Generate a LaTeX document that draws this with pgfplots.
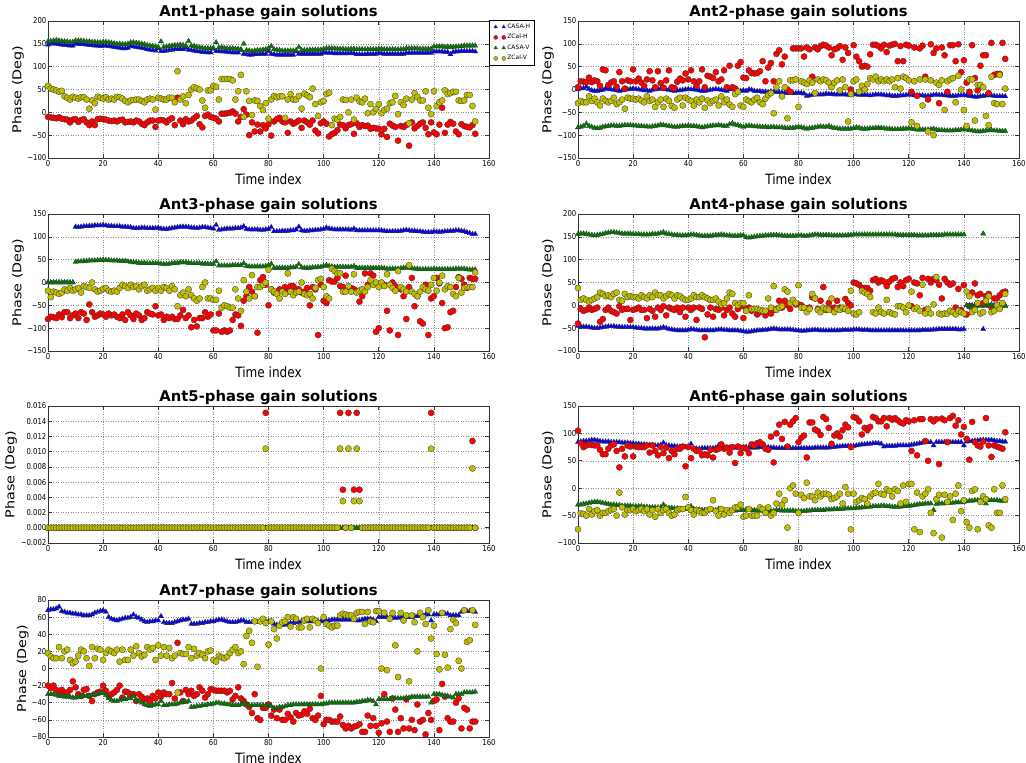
\documentclass[border=0pt]{standalone}
\usepackage{fontspec}
\setmainfont{DejaVu Sans}
\usepackage{graphicx}
\usepackage{pgfplots}
\pgfplotsset{compat=1.18}
\definecolor{yv}{rgb}{0.75,0.75,0}
\definecolor{gv}{rgb}{0,0.5,0}
\newcommand{\hs}[1]{\scalebox{0.85}[1]{#1}}
\newcommand{\vs}[1]{\scalebox{1}[0.85]{#1}}
\newcommand{\ser}[2]{\addplot[#1] table[row sep=\\,x expr=\coordindex,y index=0]{#2};}
\pgfplotsset{
 leg/.style={legend image code/.code={\path[draw=none,fill=none] (-3pt,-2.5pt) rectangle (11pt,2.5pt);\draw[##1,mark size=2pt] plot coordinates {(0pt,0pt) (8pt,0pt)};}},
 sH/.style={only marks, mark=triangle*, mark size=3pt, mark options={fill=blue, draw=black!80, line width=0.3pt}, leg},
 zH/.style={only marks, mark=*, mark size=3.1pt, mark options={fill=red, draw=black!80, line width=0.3pt}, leg},
 sV/.style={only marks, mark=triangle*, mark size=3pt, mark options={fill=gv, draw=black!80, line width=0.3pt}, leg},
 zV/.style={only marks, mark=*, mark size=3.1pt, mark options={fill=yv, draw=black!80, line width=0.3pt}, leg},
 ant/.style={scale only axis, width=441pt, height=137pt, anchor=south west, xmin=0, xmax=160,
   scaled y ticks=false, scaled x ticks=false,
   xtick={0,20,...,160}, xticklabels={\hs{0},\hs{20},\hs{40},\hs{60},\hs{80},\hs{100},\hs{120},\hs{140},\hs{160}},
   grid=major, grid style={black!45, line width=0.5pt, dash pattern=on 1pt off 1.5pt},
   axis line style={black!80, line width=0.8pt},
   tick style={black!80, line width=0.6pt}, major tick length=4pt,
   ticklabel style={font=\fontsize{8.1}{9}\selectfont},
   xticklabel style={inner sep=2pt}, yticklabel style={inner sep=1.5pt},
   title style={at={(axis description cs:0.5,1)}, anchor=base, yshift=-2pt, font=\fontsize{14.8}{17}\selectfont\bfseries},
   xlabel={\hs{Time index}}, xlabel style={at={(axis description cs:0.5,-0.19)}, anchor=base, font=\fontsize{14.2}{16}\selectfont},
   ylabel={\vs{Phase (Deg)}}, ylabel style={at={(axis description cs:-0.068,0.5)}, anchor=center, font=\fontsize{14.3}{16}\selectfont},
 }
}
\begin{document}
\begin{tikzpicture}
\path[use as bounding box] (0pt,0pt) rectangle (1026pt,763pt);
% ---------------- Ant1
\begin{axis}[ant, at={(48pt,605pt)}, title={Ant1-phase gain solutions},
  ymin=-100, ymax=200, ytick={-100,-50,0,50,100,150,200},
  yticklabels={\hs{−100},\hs{−50},\hs{0},\hs{50},\hs{100},\hs{150},\hs{200}},
  legend entries={CASA-H,ZCal-H,CASA-V,ZCal-V}, legend cell align=left,
  legend style={at={(1,1.01)}, anchor=north west, draw=black, line width=0.4pt, font=\fontsize{6}{7}\selectfont, inner sep=3.5pt, row sep=3.3pt, nodes={inner sep=0.6pt}}]
\ser{sH}{148\\150\\151\\150\\149\\148\\147\\147\\146\\146\\
150\\150\\149\\149\\148\\147\\147\\146\\146\\145\\
146\\146\\145\\144\\143\\142\\141\\140\\140\\141\\
145\\144\\143\\142\\141\\140\\138\\137\\136\\135\\
140\\134\\134\\135\\136\\137\\138\\138\\139\\138\\
141\\137\\136\\135\\134\\133\\132\\132\\131\\131\\
139\\134\\134\\133\\133\\132\\132\\131\\131\\131\\
136\\128\\127\\126\\126\\127\\127\\128\\128\\128\\
134\\128\\127\\126\\126\\126\\126\\126\\126\\126\\
133\\128\\128\\128\\128\\128\\128\\128\\128\\128\\
131\\130\\130\\130\\129\\129\\129\\129\\129\\129\\
130\\129\\127\\127\\127\\127\\128\\128\\128\\128\\
130\\129\\128\\128\\128\\128\\128\\128\\128\\128\\
130\\130\\130\\130\\130\\130\\130\\130\\130\\130\\
133\\133\\133\\133\\132\\132\\127\\132\\133\\133\\
134\\134\\134\\134\\134\\133\\}
\ser{zH}{-10\\-11\\-12\\-13\\-11\\-14\\-15\\-16\\-22\\-16\\
-15\\-21\\-17\\-15\\-22\\-28\\-20\\-28\\-15\\-14\\
-15\\-16\\-18\\-19\\-18\\-20\\-17\\-16\\-22\\-21\\
-20\\-22\\-18\\-20\\-25\\-28\\-22\\-18\\-18\\-32\\
-18\\-17\\-18\\-22\\-16\\-13\\-28\\32\\-18\\-26\\
-15\\-20\\-18\\-13\\-8\\-26\\-33\\-8\\-5\\-10\\
-12\\-14\\-20\\-3\\-3\\-2\\-1\\2\\-3\\-20\\
-10\\7\\-5\\-50\\-22\\-42\\-27\\-42\\-28\\-35\\
-26\\-51\\-20\\-15\\-12\\-20\\-22\\-45\\-20\\-25\\
-22\\-18\\-34\\-18\\-22\\-27\\-18\\-40\\-46\\-24\\
-20\\-25\\-53\\-48\\-45\\-39\\-27\\-28\\-35\\-28\\
-26\\-47\\-24\\-32\\-28\\-30\\-29\\-36\\-34\\-35\\
-36\\-48\\-36\\-54\\-25\\-29\\-32\\-62\\-30\\-32\\
-28\\-73\\-22\\-35\\-30\\-25\\-22\\-34\\-48\\-22\\
-44\\-48\\-27\\10\\-45\\-27\\-21\\-25\\-42\\-48\\
-26\\-30\\-32\\-33\\-28\\-47\\}
\ser{sV}{155\\156\\157\\158\\157\\156\\155\\155\\154\\154\\
157\\157\\157\\156\\155\\155\\154\\154\\153\\153\\
154\\154\\153\\152\\151\\150\\150\\149\\149\\150\\
153\\153\\152\\151\\150\\149\\147\\146\\145\\144\\
143\\155\\143\\144\\145\\146\\147\\147\\148\\147\\
146\\156\\146\\145\\143\\142\\141\\140\\140\\140\\
141\\153\\142\\142\\141\\140\\140\\140\\139\\139\\
138\\150\\136\\135\\134\\135\\136\\136\\137\\138\\
140\\145\\138\\137\\136\\135\\135\\135\\135\\135\\
136\\143\\136\\136\\136\\137\\137\\137\\137\\137\\
139\\140\\140\\140\\140\\139\\139\\139\\138\\138\\
139\\139\\138\\138\\138\\138\\138\\138\\138\\138\\
139\\139\\138\\138\\138\\138\\138\\138\\138\\138\\
140\\140\\140\\140\\140\\139\\139\\139\\139\\139\\
144\\144\\144\\144\\143\\143\\143\\143\\144\\144\\
145\\146\\146\\146\\146\\146\\}
\ser{zV}{58\\52\\50\\48\\45\\47\\35\\32\\28\\34\\
32\\30\\33\\33\\28\\8\\26\\20\\34\\32\\
30\\33\\28\\30\\28\\34\\33\\30\\25\\22\\
26\\27\\28\\28\\25\\22\\28\\30\\28\\6\\
32\\30\\28\\28\\32\\32\\22\\90\\28\\35\\
20\\38\\50\\55\\52\\50\\26\\10\\48\\48\\
58\\56\\28\\73\\73\\73\\73\\70\\28\\46\\
82\\-10\\46\\25\\-6\\26\\25\\14\\5\\20\\
-14\\28\\36\\33\\35\\35\\-12\\28\\40\\28\\
28\\36\\8\\41\\37\\33\\52\\18\\-8\\22\\
25\\40\\43\\-28\\-14\\-16\\-10\\28\\27\\0\\
28\\-16\\32\\24\\22\\30\\-2\\18\\0\\8\\
18\\-2\\5\\8\\20\\22\\36\\-4\\22\\16\\
30\\-24\\28\\42\\34\\26\\26\\46\\10\\-4\\
46\\14\\22\\26\\48\\40\\42\\45\\45\\26\\
25\\26\\38\\38\\14\\-20\\}
\end{axis}
% ---------------- Ant2
\begin{axis}[ant, at={(578pt,605pt)}, title={Ant2-phase gain solutions},
  ymin=-150, ymax=150, ytick={-150,-100,-50,0,50,100,150},
  yticklabels={\hs{−150},\hs{−100},\hs{−50},\hs{0},\hs{50},\hs{100},\hs{150}}]
\ser{sH}{0\\2\\3\\6\\1\\-2\\-3\\-3\\-2\\-1\\
2\\1\\0\\-1\\-2\\-3\\-2\\-1\\0\\1\\
2\\1\\0\\-1\\-2\\-2\\-3\\-1\\0\\1\\
2\\1\\0\\-1\\-2\\-3\\-2\\-2\\-1\\0\\
1\\0\\0\\-1\\-2\\-3\\-3\\-2\\-1\\0\\
1\\0\\-1\\-2\\-3\\0\\3\\-1\\-2\\-3\\
-2\\-3\\0\\-1\\-3\\-4\\-4\\-5\\-5\\-6\\
-4\\-5\\-6\\-6\\-7\\-7\\-8\\-8\\-8\\-8\\
-7\\-8\\-9\\-14\\-13\\-12\\-11\\-11\\-11\\-11\\
-9\\-10\\-10\\-11\\-11\\-11\\-11\\-11\\-12\\-12\\
-10\\-11\\-12\\-12\\-12\\-12\\-13\\-12\\-11\\-11\\
-11\\-12\\-13\\-13\\-14\\-14\\-14\\-13\\-13\\-12\\
-11\\-12\\-13\\-13\\-13\\-13\\-14\\-14\\-13\\-12\\
-11\\-12\\-12\\-13\\-13\\-14\\-14\\-14\\-13\\-13\\
-12\\-13\\-14\\-15\\-16\\-16\\-15\\-14\\-13\\-13\\
-13\\-14\\-15\\-15\\-15\\-15\\}
\ser{zH}{5\\18\\17\\16\\26\\16\\20\\18\\8\\44\\
42\\10\\15\\18\\6\\38\\18\\2\\20\\18\\
44\\18\\24\\15\\8\\22\\40\\20\\5\\40\\
14\\4\\20\\42\\5\\3\\17\\24\\20\\35\\
22\\42\\18\\8\\18\\44\\5\\30\\28\\25\\
38\\18\\22\\42\\5\\52\\5\\2\\52\\60\\
26\\25\\42\\36\\35\\36\\40\\62\\18\\48\\
58\\18\\78\\86\\55\\72\\0\\-5\\90\\90\\
90\\90\\72\\92\\88\\28\\92\\88\\95\\98\\
96\\92\\75\\88\\90\\95\\65\\92\\80\\0\\
97\\72\\62\\50\\52\\50\\77\\98\\98\\95\\
90\\98\\82\\96\\98\\100\\62\\95\\62\\98\\
96\\-5\\92\\-14\\90\\96\\28\\-22\\99\\80\\
90\\-30\\92\\75\\-5\\97\\97\\62\\99\\38\\
64\\15\\-5\\97\\25\\-2\\52\\75\\75\\-8\\
102\\32\\34\\34\\102\\67\\}
\ser{sV}{-83\\-82\\-80\\-75\\-80\\-82\\-84\\-85\\-84\\-82\\
-81\\-80\\-79\\-79\\-80\\-80\\-79\\-78\\-78\\-78\\
-79\\-79\\-80\\-80\\-81\\-81\\-82\\-81\\-80\\-79\\
-77\\-78\\-79\\-80\\-81\\-82\\-82\\-81\\-80\\-80\\
-79\\-80\\-80\\-81\\-82\\-83\\-82\\-81\\-80\\-79\\
-79\\-78\\-79\\-80\\-80\\-76\\-74\\-77\\-78\\-80\\
-82\\-80\\-79\\-80\\-81\\-81\\-82\\-82\\-82\\-83\\
-82\\-82\\-83\\-83\\-83\\-84\\-85\\-84\\-84\\-83\\
-82\\-83\\-84\\-86\\-85\\-84\\-83\\-82\\-81\\-82\\
-82\\-80\\-83\\-84\\-85\\-86\\-86\\-86\\-86\\-86\\
-85\\-83\\-84\\-86\\-86\\-86\\-85\\-85\\-84\\-84\\
-84\\-85\\-86\\-86\\-87\\-87\\-87\\-87\\-86\\-86\\
-85\\-86\\-87\\-88\\-88\\-88\\-88\\-88\\-87\\-86\\
-88\\-89\\-89\\-90\\-90\\-90\\-90\\-89\\-89\\-88\\
-87\\-88\\-89\\-90\\-91\\-92\\-92\\-91\\-90\\-89\\
-89\\-90\\-90\\-91\\-91\\-91\\}
\ser{zV}{-30\\-25\\-28\\-28\\-15\\-25\\-20\\-28\\-35\\-20\\
-25\\-28\\-25\\-18\\-32\\-28\\-22\\-42\\-18\\-20\\
-20\\-22\\-20\\-24\\-28\\-15\\-25\\-22\\-38\\-28\\
-22\\-38\\-20\\-25\\-36\\-40\\-22\\-18\\-35\\-18\\
-22\\-25\\-35\\-22\\-28\\-20\\-40\\-24\\-30\\-25\\
-22\\-35\\-15\\-28\\-22\\-33\\-38\\-10\\-5\\-35\\
-38\\-22\\-25\\-28\\-22\\-18\\-28\\-32\\-20\\-12\\
-8\\-52\\5\\18\\-15\\5\\-63\\20\\20\\22\\
-38\\18\\15\\12\\20\\15\\-8\\22\\18\\22\\
20\\15\\5\\15\\20\\-2\\22\\5\\-70\\-10\\
18\\22\\-5\\8\\0\\12\\25\\22\\28\\18\\
22\\18\\22\\18\\22\\5\\25\\2\\28\\25\\
20\\-72\\18\\-80\\22\\-35\\22\\-92\\20\\-100\\
15\\10\\20\\-45\\18\\22\\25\\-28\\30\\0\\
-45\\-80\\22\\22\\-68\\10\\10\\5\\-58\\-78\\
28\\-30\\-32\\32\\-32\\2\\}
\end{axis}
% ---------------- Ant3
\begin{axis}[ant, at={(48pt,412pt)}, title={Ant3-phase gain solutions},
  ymin=-150, ymax=150, ytick={-150,-100,-50,0,50,100,150},
  yticklabels={\hs{−150},\hs{−100},\hs{−50},\hs{0},\hs{50},\hs{100},\hs{150}}]
\ser{sH}{0\\0\\0\\0\\0\\0\\0\\0\\0\\0\\
122\\121\\122\\123\\123\\124\\124\\125\\125\\125\\
126\\125\\124\\124\\123\\123\\123\\122\\122\\121\\
121\\119\\119\\119\\120\\120\\119\\119\\119\\119\\
120\\118\\117\\117\\118\\119\\120\\121\\122\\122\\
122\\121\\120\\120\\119\\120\\121\\121\\120\\119\\
118\\126\\115\\116\\117\\118\\118\\118\\119\\119\\
120\\123\\117\\116\\116\\116\\116\\115\\115\\116\\
117\\121\\112\\112\\112\\113\\113\\113\\114\\114\\
116\\122\\114\\113\\113\\114\\114\\115\\115\\116\\
117\\120\\118\\117\\116\\116\\116\\116\\116\\116\\
115\\118\\114\\114\\114\\114\\114\\114\\114\\114\\
114\\114\\113\\112\\112\\112\\112\\112\\113\\114\\
115\\114\\113\\113\\112\\112\\111\\110\\110\\110\\
112\\111\\111\\111\\112\\112\\113\\113\\114\\114\\
113\\112\\110\\108\\106\\106\\}
\ser{zH}{-80\\-75\\-76\\-78\\-70\\-76\\-65\\-65\\-78\\-72\\
-68\\-78\\-65\\-68\\-82\\-48\\-65\\-75\\-72\\-68\\
-70\\-75\\-68\\-72\\-70\\-75\\-78\\-70\\-82\\-65\\
-72\\-80\\-68\\-72\\-82\\-78\\-65\\-68\\-70\\-52\\
-72\\-70\\-82\\-75\\-78\\-75\\-80\\-80\\-72\\-60\\
-78\\-72\\-98\\-82\\-96\\-78\\-78\\-65\\-75\\-70\\
-105\\-105\\-68\\-108\\-105\\-108\\-105\\-82\\-70\\-72\\
-95\\-40\\-30\\-10\\-20\\-30\\-110\\5\\12\\-5\\
-50\\-15\\-22\\-20\\-15\\-18\\-10\\-20\\-8\\-8\\
-15\\-15\\-22\\-20\\-12\\-50\\-10\\-15\\-115\\-5\\
-40\\-45\\5\\2\\2\\10\\-8\\-10\\15\\-10\\
-12\\-15\\-18\\-42\\-30\\20\\-5\\20\\15\\-108\\
-100\\-5\\-5\\-62\\-105\\0\\-8\\-115\\-15\\-30\\
-80\\-10\\10\\-52\\-30\\-85\\-90\\-5\\-115\\-35\\
-30\\10\\-2\\-45\\-100\\-98\\-65\\-62\\-10\\12\\
8\\-5\\-12\\10\\8\\8\\}
\ser{sV}{0\\0\\0\\0\\0\\0\\0\\0\\0\\0\\
45\\46\\46\\47\\47\\48\\48\\48\\49\\49\\
50\\49\\49\\48\\48\\48\\47\\47\\47\\46\\
45\\44\\44\\43\\43\\43\\42\\42\\42\\42\\
42\\41\\40\\40\\41\\42\\43\\43\\44\\44\\
44\\43\\42\\42\\42\\42\\41\\41\\41\\40\\
40\\46\\37\\37\\37\\37\\37\\38\\38\\38\\
38\\42\\36\\35\\35\\35\\35\\35\\35\\36\\
38\\41\\32\\32\\32\\32\\32\\32\\33\\33\\
34\\40\\33\\32\\32\\32\\33\\33\\34\\34\\
36\\38\\36\\35\\34\\34\\34\\34\\34\\34\\
34\\36\\32\\32\\32\\32\\32\\32\\32\\32\\
32\\32\\31\\30\\30\\30\\30\\30\\31\\32\\
33\\32\\31\\30\\30\\29\\29\\29\\29\\29\\
30\\29\\29\\29\\29\\29\\29\\29\\30\\30\\
30\\30\\29\\28\\28\\28\\}
\ser{zV}{-18\\-32\\-20\\-22\\-25\\-22\\-15\\-18\\-12\\-18\\
-15\\-12\\-22\\-8\\-10\\-12\\0\\-15\\-20\\-18\\
-14\\-12\\-18\\-20\\-18\\-20\\-12\\-5\\-8\\-12\\
-5\\-10\\-8\\-15\\-8\\-5\\-18\\-15\\-12\\-18\\
-12\\-18\\-10\\-12\\-18\\-8\\-15\\-52\\-28\\-22\\
-30\\-15\\-28\\-35\\-40\\-35\\-10\\0\\-35\\-35\\
-38\\-38\\-18\\-55\\-50\\-52\\-55\\-55\\-15\\-35\\
-62\\5\\-20\\-35\\16\\-30\\-10\\-10\\-5\\0\\
28\\-15\\-20\\-25\\-35\\-20\\-25\\20\\-20\\-28\\
-22\\-20\\0\\-25\\-28\\-25\\-35\\-12\\5\\8\\
-10\\-30\\-35\\30\\25\\20\\20\\-20\\-20\\-8\\
-20\\18\\-22\\-18\\-15\\-20\\-10\\5\\-5\\0\\
-10\\0\\-8\\18\\-5\\-12\\-18\\25\\-10\\-15\\
-20\\38\\-20\\-25\\-30\\-20\\-10\\-15\\-18\\-5\\
10\\-18\\0\\15\\-15\\-8\\-10\\-25\\-30\\10\\
-22\\-12\\-10\\-10\\-10\\22\\}
\end{axis}
% ---------------- Ant4
\begin{axis}[ant, at={(578pt,412pt)}, title={Ant4-phase gain solutions},
  ymin=-100, ymax=200, ytick={-100,-50,0,50,100,150,200},
  yticklabels={\hs{−100},\hs{−50},\hs{0},\hs{50},\hs{100},\hs{150},\hs{200}}]
\ser{sH}{-45\\-46\\-47\\-47\\-48\\-49\\-50\\-50\\-49\\-48\\
-47\\-46\\-46\\-46\\-47\\-47\\-48\\-48\\-48\\-48\\
-48\\-49\\-50\\-50\\-51\\-51\\-51\\-51\\-51\\-51\\
-50\\-48\\-50\\-52\\-53\\-54\\-55\\-55\\-55\\-55\\
-54\\-52\\-53\\-54\\-55\\-55\\-55\\-55\\-55\\-55\\
-54\\-53\\-53\\-54\\-54\\-55\\-55\\-55\\-55\\-56\\
-57\\-58\\-58\\-57\\-56\\-55\\-55\\-54\\-54\\-53\\
-52\\-51\\-52\\-53\\-53\\-53\\-53\\-53\\-54\\-55\\
-55\\-56\\-56\\-55\\-55\\-54\\-54\\-54\\-55\\-55\\
-55\\-55\\-55\\-55\\-55\\-55\\-54\\-54\\-54\\-54\\
-53\\-53\\-53\\-54\\-54\\-54\\-55\\-55\\-55\\-55\\
-55\\-55\\-55\\-55\\-55\\-55\\-55\\-55\\-55\\-55\\
-55\\-55\\-55\\-55\\-55\\-54\\-54\\-54\\-54\\-53\\
-53\\-52\\-52\\-52\\-52\\-52\\-52\\-52\\-53\\-53\\
-52\\0\\0\\0\\0\\0\\0\\-52\\0\\0\\
0\\0\\0\\0\\0\\0\\}
\ser{zH}{-40\\-8\\-12\\-10\\-5\\-10\\-8\\-5\\-36\\-30\\
-10\\-5\\-12\\-15\\-18\\-2\\-10\\-8\\-8\\-32\\
-10\\-8\\-5\\-10\\-10\\-28\\-8\\-12\\-25\\-5\\
-10\\-2\\-22\\-5\\-8\\-10\\-5\\-15\\-5\\-25\\
-5\\-10\\-5\\-32\\-5\\-8\\-70\\-20\\-5\\-25\\
-8\\-10\\-5\\-22\\-10\\-5\\-18\\-25\\-8\\-2\\
-28\\-8\\-5\\-12\\-8\\-20\\-15\\-12\\-22\\-15\\
-18\\-10\\-8\\10\\-5\\10\\0\\-8\\10\\2\\
2\\0\\-5\\-10\\-5\\18\\15\\-8\\10\\40\\
-10\\5\\-8\\-5\\10\\-5\\-8\\14\\5\\0\\
50\\48\\45\\38\\38\\38\\32\\55\\58\\50\\
55\\52\\42\\52\\58\\60\\40\\50\\42\\55\\
58\\-2\\50\\48\\22\\60\\-10\\58\\50\\58\\
55\\45\\15\\58\\50\\45\\48\\-5\\36\\-10\\
44\\-20\\-2\\28\\48\\22\\25\\5\\20\\25\\
-5\\15\\15\\22\\28\\30\\}
\ser{sV}{156\\157\\157\\156\\155\\154\\153\\154\\155\\156\\
158\\159\\160\\160\\159\\158\\157\\157\\157\\157\\
156\\156\\156\\155\\155\\155\\155\\156\\156\\157\\
158\\160\\157\\156\\155\\154\\154\\153\\153\\153\\
154\\155\\155\\154\\153\\152\\152\\152\\152\\153\\
154\\154\\155\\154\\153\\153\\152\\152\\152\\153\\
153\\149\\148\\149\\150\\151\\152\\152\\153\\153\\
154\\154\\154\\153\\153\\152\\152\\152\\152\\152\\
153\\153\\152\\152\\153\\154\\155\\155\\154\\154\\
154\\154\\153\\153\\153\\153\\153\\153\\154\\154\\
155\\155\\155\\155\\155\\155\\155\\155\\155\\155\\
155\\155\\155\\155\\155\\155\\154\\154\\154\\154\\
154\\154\\154\\153\\153\\153\\153\\153\\154\\154\\
154\\154\\154\\155\\155\\155\\155\\155\\155\\155\\
155\\0\\-2\\-3\\-2\\0\\-2\\157\\-2\\0\\
2\\-3\\-2\\0\\-2\\-2\\}
\ser{zV}{38\\12\\15\\12\\8\\12\\15\\18\\28\\25\\
20\\22\\18\\25\\28\\12\\10\\25\\18\\20\\
18\\18\\15\\22\\18\\15\\22\\18\\28\\22\\
22\\15\\20\\25\\22\\15\\22\\20\\15\\12\\
12\\15\\22\\18\\18\\22\\18\\15\\12\\12\\
15\\8\\2\\5\\15\\28\\25\\5\\0\\5\\
5\\-12\\22\\-8\\-8\\-8\\-10\\-12\\-12\\15\\
-5\\42\\-10\\-5\\-2\\35\\30\\5\\12\\5\\
44\\-5\\-5\\-15\\-8\\25\\15\\-10\\-15\\-5\\
-8\\-10\\15\\-15\\-8\\-10\\-5\\-8\\-12\\32\\
-18\\-20\\-15\\32\\28\\25\\18\\-15\\-18\\-5\\
-15\\-18\\12\\-15\\-18\\-20\\-2\\-2\\-5\\-15\\
0\\30\\-8\\-5\\-12\\45\\-18\\-8\\-18\\2\\
62\\-18\\-20\\-18\\-18\\-12\\-15\\-20\\-12\\-15\\
-18\\30\\20\\-15\\-10\\5\\-18\\-15\\10\\20\\
-15\\-12\\0\\-8\\5\\25\\}
\end{axis}
% ---------------- Ant5
\begin{axis}[ant, at={(48pt,220pt)}, title={Ant5-phase gain solutions},
  ymin=-0.002, ymax=0.016, ytick={-0.002,0,0.002,0.004,0.006,0.008,0.010,0.012,0.014,0.016},
  yticklabels={\hs{−0.002},\hs{0.000},\hs{0.002},\hs{0.004},\hs{0.006},\hs{0.008},\hs{0.010},\hs{0.012},\hs{0.014},\hs{0.016}},
  ylabel style={at={(axis description cs:-0.084,0.5)}}]
\ser{sH}{0\\0\\0\\0\\0\\0\\0\\0\\0\\0\\
0\\0\\0\\0\\0\\0\\0\\0\\0\\0\\
0\\0\\0\\0\\0\\0\\0\\0\\0\\0\\
0\\0\\0\\0\\0\\0\\0\\0\\0\\0\\
0\\0\\0\\0\\0\\0\\0\\0\\0\\0\\
0\\0\\0\\0\\0\\0\\0\\0\\0\\0\\
0\\0\\0\\0\\0\\0\\0\\0\\0\\0\\
0\\0\\0\\0\\0\\0\\0\\0\\0\\0\\
0\\0\\0\\0\\0\\0\\0\\0\\0\\0\\
0\\0\\0\\0\\0\\0\\0\\0\\0\\0\\
0\\0\\0\\0\\0\\0\\0\\0\\0\\0\\
0\\0\\0\\0\\0\\0\\0\\0\\0\\0\\
0\\0\\0\\0\\0\\0\\0\\0\\0\\0\\
0\\0\\0\\0\\0\\0\\0\\0\\0\\0\\
0\\0\\0\\0\\0\\0\\0\\0\\0\\0\\
0\\0\\0\\0\\0\\0\\}
\ser{zH}{0\\0\\0\\0\\0\\0\\0\\0\\0\\0\\
0\\0\\0\\0\\0\\0\\0\\0\\0\\0\\
0\\0\\0\\0\\0\\0\\0\\0\\0\\0\\
0\\0\\0\\0\\0\\0\\0\\0\\0\\0\\
0\\0\\0\\0\\0\\0\\0\\0\\0\\0\\
0\\0\\0\\0\\0\\0\\0\\0\\0\\0\\
0\\0\\0\\0\\0\\0\\0\\0\\0\\0\\
0\\0\\0\\0\\0\\0\\0\\0\\0\\0.0151\\
0\\0\\0\\0\\0\\0\\0\\0\\0\\0\\
0\\0\\0\\0\\0\\0\\0\\0\\0\\0\\
0\\0\\0\\0\\0\\0\\0.0151\\0.005\\0\\0.0151\\
0\\0.005\\0.0151\\0.005\\0\\0\\0\\0\\0\\0\\
0\\0\\0\\0\\0\\0\\0\\0\\0\\0\\
0\\0\\0\\0\\0\\0\\0\\0\\0\\0.0151\\
0\\0\\0\\0\\0\\0\\0\\0\\0\\0\\
0\\0\\0\\0\\0.0114\\0\\}
\ser{sV}{0\\0\\0\\0\\0\\0\\0\\0\\0\\0\\
0\\0\\0\\0\\0\\0\\0\\0\\0\\0\\
0\\0\\0\\0\\0\\0\\0\\0\\0\\0\\
0\\0\\0\\0\\0\\0\\0\\0\\0\\0\\
0\\0\\0\\0\\0\\0\\0\\0\\0\\0\\
0\\0\\0\\0\\0\\0\\0\\0\\0\\0\\
0\\0\\0\\0\\0\\0\\0\\0\\0\\0\\
0\\0\\0\\0\\0\\0\\0\\0\\0\\0\\
0\\0\\0\\0\\0\\0\\0\\0\\0\\0\\
0\\0\\0\\0\\0\\0\\0\\0\\0\\0\\
0\\0\\0\\0\\0\\0\\0\\0\\0\\0\\
0\\0\\0\\0\\0\\0\\0\\0\\0\\0\\
0\\0\\0\\0\\0\\0\\0\\0\\0\\0\\
0\\0\\0\\0\\0\\0\\0\\0\\0\\0\\
0\\0\\0\\0\\0\\0\\0\\0\\0\\0\\
0\\0\\0\\0\\0\\0\\}
\ser{zV}{0\\0\\0\\0\\0\\0\\0\\0\\0\\0\\
0\\0\\0\\0\\0\\0\\0\\0\\0\\0\\
0\\0\\0\\0\\0\\0\\0\\0\\0\\0\\
0\\0\\0\\0\\0\\0\\0\\0\\0\\0\\
0\\0\\0\\0\\0\\0\\0\\0\\0\\0\\
0\\0\\0\\0\\0\\0\\0\\0\\0\\0\\
0\\0\\0\\0\\0\\0\\0\\0\\0\\0\\
0\\0\\0\\0\\0\\0\\0\\0\\0\\0.0104\\
0\\0\\0\\0\\0\\0\\0\\0\\0\\0\\
0\\0\\0\\0\\0\\0\\0\\0\\0\\0\\
0\\0\\0\\0\\0\\0\\0.0104\\0.0035\\0\\0.0104\\
0\\0.0035\\0.0104\\0.0035\\0\\0\\0\\0\\0\\0\\
0\\0\\0\\0\\0\\0\\0\\0\\0\\0\\
0\\0\\0\\0\\0\\0\\0\\0\\0\\0.0104\\
0\\0\\0\\0\\0\\0\\0\\0\\0\\0\\
0\\0\\0\\0\\0.0078\\0\\}
\end{axis}
% ---------------- Ant6
\begin{axis}[ant, at={(578pt,220pt)}, title={Ant6-phase gain solutions},
  ymin=-100, ymax=150, ytick={-100,-50,0,50,100,150},
  yticklabels={\hs{−100},\hs{−50},\hs{0},\hs{50},\hs{100},\hs{150}}]
\ser{sH}{84\\85\\86\\86\\87\\88\\88\\87\\86\\85\\
85\\85\\84\\84\\84\\84\\83\\83\\83\\82\\
82\\81\\81\\80\\80\\79\\79\\79\\78\\78\\
79\\83\\78\\78\\77\\77\\76\\76\\75\\75\\
76\\81\\72\\72\\72\\73\\73\\73\\73\\73\\
74\\78\\74\\74\\74\\74\\74\\74\\74\\74\\
75\\75\\74\\74\\74\\74\\75\\75\\75\\75\\
74\\74\\73\\73\\73\\73\\73\\73\\73\\73\\
73\\73\\73\\73\\73\\73\\74\\74\\74\\74\\
74\\74\\75\\75\\76\\76\\77\\77\\77\\77\\
77\\78\\79\\80\\80\\81\\81\\82\\82\\82\\
81\\76\\77\\77\\77\\77\\78\\78\\78\\78\\
78\\79\\80\\81\\82\\83\\84\\84\\84\\78\\
84\\84\\84\\84\\84\\84\\84\\84\\84\\84\\
78\\85\\86\\86\\87\\87\\88\\88\\88\\88\\
88\\87\\86\\86\\85\\85\\}
\ser{zH}{105\\82\\75\\78\\80\\79\\78\\78\\70\\62\\
62\\72\\78\\80\\68\\38\\72\\58\\78\\76\\
58\\76\\75\\75\\75\\78\\65\\78\\68\\60\\
75\\64\\74\\55\\68\\62\\72\\72\\76\\40\\
75\\55\\72\\68\\68\\60\\62\\60\\70\\56\\
70\\72\\80\\72\\74\\65\\75\\46\\76\\64\\
74\\72\\64\\80\\78\\82\\84\\80\\72\\70\\
94\\47\\100\\116\\90\\121\\76\\116\\122\\128\\
84\\92\\96\\56\\120\\120\\107\\104\\97\\130\\
126\\110\\81\\96\\100\\94\\106\\116\\111\\75\\
130\\128\\122\\98\\110\\106\\112\\130\\128\\122\\
122\\128\\113\\128\\125\\128\\124\\120\\118\\124\\
122\\68\\124\\60\\126\\126\\86\\50\\126\\122\\
126\\44\\127\\124\\84\\128\\132\\114\\124\\98\\
112\\90\\52\\121\\84\\78\\76\\85\\128\\78\\
57\\78\\76\\74\\72\\102\\}
\ser{sV}{-30\\-30\\-29\\-28\\-27\\-26\\-25\\-25\\-26\\-27\\
-28\\-29\\-30\\-30\\-31\\-31\\-32\\-32\\-32\\-32\\
-33\\-33\\-33\\-33\\-34\\-34\\-35\\-35\\-35\\-35\\
-35\\-30\\-35\\-36\\-36\\-37\\-37\\-38\\-38\\-38\\
-38\\-33\\-38\\-39\\-39\\-40\\-40\\-40\\-40\\-40\\
-40\\-38\\-40\\-41\\-41\\-41\\-41\\-41\\-40\\-40\\
-40\\-39\\-39\\-40\\-40\\-41\\-41\\-41\\-42\\-42\\
-42\\-41\\-40\\-40\\-41\\-41\\-41\\-41\\-41\\-42\\
-42\\-42\\-42\\-41\\-41\\-40\\-40\\-40\\-40\\-40\\
-39\\-39\\-39\\-38\\-38\\-38\\-38\\-37\\-37\\-37\\
-37\\-36\\-36\\-35\\-35\\-34\\-34\\-33\\-33\\-33\\
-32\\-32\\-33\\-33\\-34\\-34\\-34\\-34\\-33\\-33\\
-32\\-32\\-31\\-30\\-29\\-29\\-28\\-28\\-28\\-40\\
-29\\-28\\-28\\-28\\-27\\-27\\-27\\-26\\-26\\-26\\
-25\\-24\\-23\\-23\\-22\\-22\\-22\\-22\\-28\\-22\\
-22\\-22\\-22\\-23\\-23\\-23\\}
\ser{zV}{-75\\-46\\-47\\-50\\-38\\-48\\-42\\-40\\-50\\-45\\
-45\\-42\\-40\\-38\\-50\\-8\\-35\\-48\\-40\\-40\\
-38\\-42\\-40\\-38\\-42\\-38\\-48\\-40\\-52\\-38\\
-45\\-40\\-38\\-45\\-50\\-48\\-40\\-38\\-38\\-16\\
-35\\-40\\-48\\-40\\-42\\-45\\-45\\-40\\-38\\-22\\
-42\\-50\\-38\\-48\\-40\\-45\\-40\\-35\\-35\\-30\\
-52\\-50\\-38\\-50\\-50\\-50\\-35\\-38\\-45\\-35\\
-50\\-45\\-28\\-10\\-30\\-22\\-72\\0\\5\\-10\\
-45\\-12\\-18\\10\\-15\\-15\\-22\\-8\\-15\\-10\\
-10\\-12\\-20\\-18\\-15\\-10\\-28\\2\\-10\\-75\\
-10\\-25\\-22\\-18\\-20\\-28\\-15\\-10\\-8\\8\\
-10\\-12\\-2\\-5\\-15\\-2\\-5\\-28\\5\\-25\\
8\\8\\-75\\-8\\-80\\-15\\-10\\-2\\-45\\-82\\
-20\\-12\\-90\\-12\\-25\\-15\\-58\\-10\\5\\-42\\
-22\\-62\\-72\\-5\\-2\\-75\\-25\\-15\\-20\\-68\\
-72\\-2\\-45\\-45\\5\\-20\\}
\end{axis}
% ---------------- Ant7
\begin{axis}[ant, at={(48pt,26pt)}, title={Ant7-phase gain solutions},
  ymin=-80, ymax=80, ytick={-80,-60,-40,-20,0,20,40,60,80},
  yticklabels={\hs{−80},\hs{−60},\hs{−40},\hs{−20},\hs{0},\hs{20},\hs{40},\hs{60},\hs{80}},
  ylabel style={at={(axis description cs:-0.057,0.5)}}]
\ser{sH}{68\\69\\69\\70\\72\\67\\66\\65\\65\\64\\
64\\63\\63\\62\\62\\62\\63\\65\\66\\67\\
68\\66\\60\\58\\57\\56\\57\\58\\59\\59\\
60\\63\\60\\59\\57\\55\\54\\55\\55\\56\\
56\\61\\54\\53\\53\\53\\54\\55\\56\\57\\
57\\58\\52\\52\\52\\53\\53\\54\\54\\55\\
55\\56\\57\\57\\56\\55\\54\\54\\54\\55\\
56\\56\\54\\54\\54\\54\\54\\54\\55\\55\\
55\\55\\52\\51\\51\\51\\51\\52\\53\\53\\
54\\54\\55\\55\\55\\55\\55\\55\\55\\55\\
56\\56\\56\\57\\57\\57\\57\\57\\57\\57\\
57\\57\\56\\56\\57\\58\\58\\58\\57\\55\\
60\\60\\60\\60\\59\\59\\59\\59\\60\\60\\
60\\60\\60\\61\\61\\62\\62\\63\\63\\56\\
63\\63\\63\\64\\64\\64\\62\\62\\62\\62\\
66\\67\\67\\67\\67\\66\\}
\ser{zH}{-20\\-23\\-20\\-25\\-30\\-25\\-28\\-28\\-25\\-15\\
-22\\-30\\-32\\-25\\-24\\-32\\-38\\-30\\-28\\-27\\
-20\\-26\\-32\\-30\\-28\\-25\\-20\\-34\\-27\\-28\\
-30\\-30\\-38\\-30\\-33\\-36\\-35\\-38\\-32\\-35\\
-28\\-33\\-28\\-30\\-30\\-17\\-35\\30\\-28\\-38\\
-25\\-30\\-26\\-32\\-30\\-22\\-26\\-34\\-30\\-24\\
-25\\-26\\-26\\-26\\-26\\-28\\-26\\-36\\-32\\-22\\
-35\\-38\\-42\\-45\\-52\\-30\\-58\\-60\\-46\\-46\\
-42\\-55\\-48\\-58\\-48\\-60\\-60\\-53\\-57\\-62\\
-52\\-55\\-54\\-50\\-53\\-47\\-58\\-60\\-55\\-32\\
-65\\-60\\-60\\-62\\-62\\-62\\-56\\-66\\-70\\-67\\
-70\\-68\\-67\\-65\\-74\\-74\\-55\\-67\\-58\\-67\\
-75\\-64\\-30\\-62\\-74\\-35\\-48\\-74\\-58\\-70\\
-36\\-70\\-60\\-72\\-42\\-62\\-60\\-77\\-52\\-60\\
-38\\-36\\-72\\-18\\-33\\-58\\-62\\-62\\-40\\-35\\
-70\\-46\\-48\\-70\\-62\\-62\\}
\ser{sV}{-30\\-30\\-30\\-31\\-32\\-32\\-33\\-33\\-33\\-34\\
-34\\-33\\-33\\-32\\-32\\-32\\-31\\-30\\-30\\-29\\
-29\\-31\\-35\\-37\\-38\\-38\\-37\\-36\\-36\\-35\\
-35\\-32\\-37\\-38\\-40\\-42\\-43\\-44\\-43\\-42\\
-42\\-38\\-43\\-43\\-42\\-42\\-42\\-41\\-40\\-39\\
-39\\-38\\-45\\-45\\-44\\-44\\-43\\-43\\-42\\-42\\
-41\\-40\\-40\\-41\\-41\\-42\\-42\\-43\\-43\\-43\\
-42\\-40\\-43\\-43\\-43\\-43\\-43\\-43\\-43\\-43\\
-43\\-44\\-46\\-46\\-45\\-45\\-44\\-43\\-43\\-42\\
-42\\-42\\-42\\-42\\-42\\-42\\-42\\-42\\-42\\-42\\
-41\\-41\\-40\\-40\\-40\\-40\\-40\\-40\\-40\\-40\\
-40\\-40\\-39\\-39\\-38\\-38\\-37\\-37\\-38\\-42\\
-36\\-36\\-36\\-36\\-36\\-35\\-35\\-35\\-35\\-35\\
-34\\-34\\-33\\-33\\-33\\-33\\-33\\-33\\-33\\-40\\
-30\\-30\\-30\\-31\\-32\\-32\\-33\\-34\\-30\\-30\\
-30\\-28\\-28\\-28\\-28\\-27\\}
\ser{zV}{18\\14\\12\\12\\25\\12\\20\\22\\10\\6\\
8\\15\\22\\20\\12\\3\\25\\12\\23\\22\\
10\\18\\22\\20\\18\\22\\8\\22\\10\\10\\
22\\15\\26\\18\\14\\16\\25\\22\\24\\10\\
27\\15\\25\\15\\24\\12\\15\\-28\\18\\17\\
17\\25\\12\\23\\15\\18\\16\\12\\20\\21\\
10\\8\\15\\13\\12\\14\\18\\22\\25\\18\\
20\\5\\38\\44\\30\\55\\2\\55\\58\\53\\
28\\55\\46\\35\\50\\54\\55\\60\\49\\60\\
58\\48\\48\\56\\58\\48\\58\\56\\53\\0\\
60\\52\\50\\48\\50\\50\\62\\64\\63\\62\\
62\\58\\65\\66\\66\\52\\66\\55\\54\\67\\
67\\0\\65\\-2\\58\\65\\27\\-10\\65\\56\\
62\\-15\\62\\54\\20\\65\\60\\52\\68\\35\\
50\\17\\-1\\65\\16\\1\\46\\57\\53\\9\\
0\\68\\31\\33\\68\\51\\}
\end{axis}
\end{tikzpicture}
\end{document}
